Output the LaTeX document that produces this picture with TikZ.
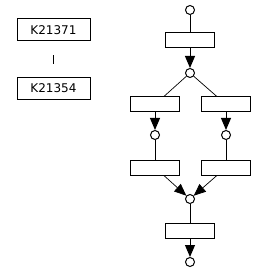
\documentclass[tikz,border=0pt]{standalone}
\usepackage{fontspec}
\setmainfont{DejaVu Sans}
\usetikzlibrary{arrows.meta}
\begin{document}
\begin{tikzpicture}[x=1pt, y=-1pt, line width=1pt,
  keybox/.style={draw, minimum width=73pt, minimum height=22pt, inner sep=0pt, font=\fontsize{12}{14}\selectfont},
  taskbox/.style={draw, minimum width=49pt, minimum height=15pt, inner sep=0pt},
  junction/.style={draw, circle, fill=white, minimum size=9pt, inner sep=0pt},
  flow/.style={-{Triangle[length=12pt, width=10pt]}}]
  \useasboundingbox (0,0) rectangle (256,272);
  % left: two keys
  \node[keybox] (k1) at (53.5,30) {K21371};
  \node[keybox] (k2) at (53.5,88.5) {K21354};
  \draw[line width=1.5pt, shorten <=14pt, shorten >=12.5pt] (k1) -- (k2);
  % right: flow
  \node[junction] (c0) at (190,10) {};
  \node[taskbox] (b1) at (190,40.5) {};
  \node[junction] (c1) at (190,73) {};
  \node[taskbox] (b2l) at (155,104.5) {};
  \node[taskbox] (b2r) at (226,104.5) {};
  \node[junction] (c2l) at (155,135) {};
  \node[junction] (c2r) at (226,135) {};
  \node[taskbox] (b3l) at (155,167.5) {};
  \node[taskbox] (b3r) at (226,167.5) {};
  \node[junction] (c3) at (190,199) {};
  \node[taskbox] (b4) at (190,230.5) {};
  \node[junction] (c4) at (190,262) {};
  \draw (c0) -- (b1);
  \draw[flow] (b1) -- (c1);
  \draw[line width=0.7pt] (c1) -- (b2l);
  \draw[line width=0.7pt] (c1) -- (b2r);
  \draw[flow] (b2l) -- (c2l);
  \draw[flow] (b2r) -- (c2r);
  \draw (c2l) -- (b3l);
  \draw (c2r) -- (b3r);
  \draw[flow, line width=0.7pt] (b3l) -- (c3);
  \draw[flow, line width=0.7pt] (b3r) -- (c3);
  \draw (c3) -- (b4);
  \draw[flow] (b4) -- (c4);
\end{tikzpicture}
\end{document}
